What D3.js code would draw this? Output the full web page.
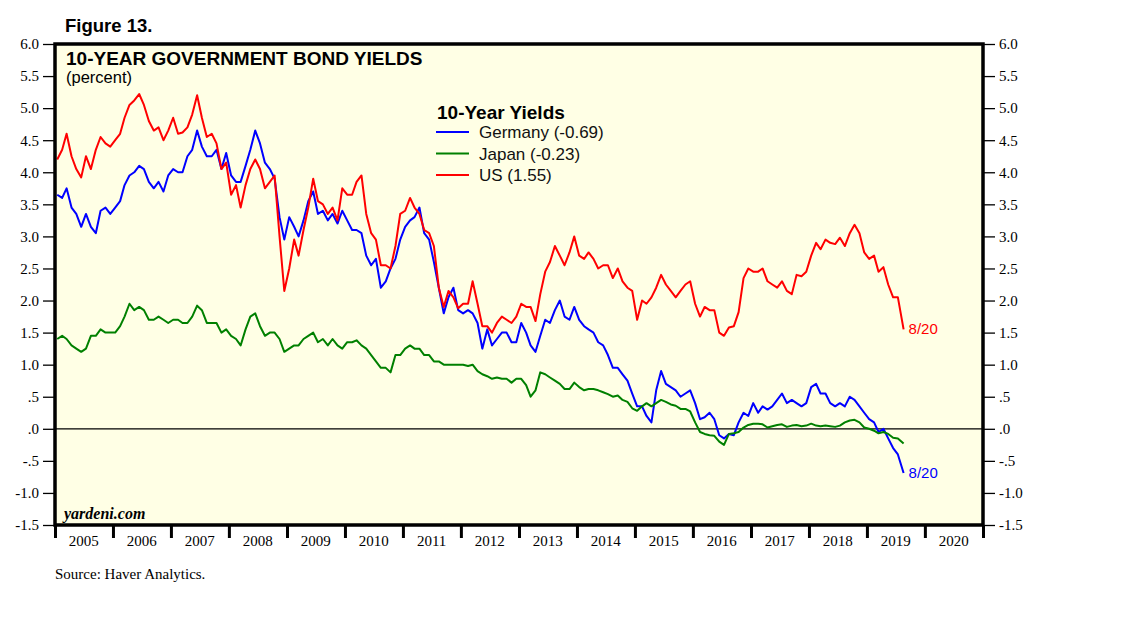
<!DOCTYPE html>
<html>
<head>
<meta charset="utf-8">
<title>10-Year Government Bond Yields</title>
<script src="https://d3js.org/d3.v7.min.js"></script>
<style>
  body { margin: 0; background: #fff; }
  .sans { font-family: "Liberation Sans", Arial, sans-serif; }
</style>
</head>
<body>
<svg id="chart" width="1138" height="621"></svg>
<script>
// monthly readings, Jan 2005 .. Aug 2019 (last point = 8/20)
var startMonth = new Date(2005, 0, 15);
var lastDate = new Date(2019, 7, 20);

var germany = [
  3.65, 3.60, 3.75, 3.45, 3.35, 3.15, 3.35, 3.15, 3.05, 3.40, 3.45, 3.35,
  3.45, 3.55, 3.80, 3.95, 4.00, 4.10, 4.05, 3.85, 3.75, 3.85, 3.70, 3.95,
  4.05, 4.00, 4.00, 4.25, 4.35, 4.65, 4.40, 4.25, 4.25, 4.35, 4.05, 4.30,
  3.95, 3.85, 3.85, 4.10, 4.35, 4.65, 4.45, 4.15, 4.05, 3.90, 3.30, 2.95,
  3.30, 3.15, 3.00, 3.25, 3.55, 3.70, 3.35, 3.40, 3.25, 3.35, 3.20, 3.40,
  3.25, 3.10, 3.10, 3.05, 2.70, 2.55, 2.65, 2.20, 2.30, 2.50, 2.65, 2.95,
  3.15, 3.25, 3.30, 3.45, 3.05, 2.95, 2.60, 2.20, 1.80, 2.05, 2.20, 1.85,
  1.80, 1.85, 1.80, 1.65, 1.25, 1.55, 1.30, 1.40, 1.50, 1.50, 1.35, 1.35,
  1.65, 1.50, 1.30, 1.20, 1.45, 1.70, 1.65, 1.85, 2.00, 1.75, 1.70, 1.90,
  1.70, 1.60, 1.55, 1.50, 1.35, 1.30, 1.15, 0.95, 0.95, 0.85, 0.75, 0.55,
  0.35, 0.35, 0.20, 0.10, 0.60, 0.90, 0.70, 0.65, 0.60, 0.50, 0.55, 0.60,
  0.40, 0.15, 0.18, 0.25, 0.15, -0.10, -0.15, -0.08, -0.10, 0.10, 0.25, 0.20,
  0.40, 0.25, 0.35, 0.30, 0.35, 0.45, 0.55, 0.40, 0.45, 0.40, 0.35, 0.40,
  0.65, 0.70, 0.55, 0.55, 0.40, 0.35, 0.40, 0.35, 0.50, 0.45, 0.35, 0.25,
  0.15, 0.10, -0.05, 0.00, -0.15, -0.30, -0.40, -0.69
];

var japan = [
  1.40, 1.45, 1.40, 1.30, 1.25, 1.20, 1.25, 1.45, 1.45, 1.55, 1.50, 1.50,
  1.50, 1.60, 1.75, 1.95, 1.85, 1.90, 1.85, 1.70, 1.70, 1.75, 1.70, 1.65,
  1.70, 1.70, 1.65, 1.65, 1.75, 1.92, 1.85, 1.65, 1.65, 1.65, 1.50, 1.55,
  1.45, 1.40, 1.30, 1.55, 1.75, 1.80, 1.60, 1.45, 1.50, 1.50, 1.40, 1.20,
  1.25, 1.30, 1.30, 1.40, 1.45, 1.50, 1.35, 1.40, 1.30, 1.40, 1.30, 1.25,
  1.35, 1.35, 1.38, 1.30, 1.25, 1.15, 1.05, 0.95, 0.95, 0.88, 1.15, 1.15,
  1.25, 1.30, 1.25, 1.25, 1.15, 1.15, 1.05, 1.05, 1.00, 1.00, 1.00, 1.00,
  1.00, 0.98, 1.00, 0.90, 0.85, 0.82, 0.78, 0.80, 0.78, 0.78, 0.72, 0.78,
  0.78, 0.68, 0.50, 0.60, 0.88, 0.85, 0.80, 0.75, 0.70, 0.62, 0.62, 0.72,
  0.65, 0.60, 0.62, 0.62, 0.60, 0.57, 0.54, 0.50, 0.52, 0.45, 0.42, 0.32,
  0.28, 0.35, 0.40, 0.35, 0.40, 0.45, 0.42, 0.38, 0.36, 0.31, 0.31, 0.27,
  0.10, -0.05, -0.08, -0.10, -0.11, -0.20, -0.25, -0.08, -0.07, -0.05, 0.02, 0.06,
  0.08, 0.08, 0.07, 0.02, 0.04, 0.06, 0.07, 0.03, 0.05, 0.06, 0.04, 0.05,
  0.08, 0.05, 0.04, 0.05, 0.04, 0.03, 0.05, 0.10, 0.13, 0.14, 0.10, 0.02,
  0.00, -0.03, -0.07, -0.05, -0.08, -0.14, -0.15, -0.23
];

var us = [
  4.20, 4.35, 4.60, 4.25, 4.05, 3.92, 4.25, 4.05, 4.35, 4.55, 4.45, 4.40,
  4.50, 4.60, 4.85, 5.05, 5.12, 5.22, 5.05, 4.80, 4.65, 4.70, 4.50, 4.65,
  4.85, 4.60, 4.62, 4.70, 4.90, 5.20, 4.85, 4.55, 4.60, 4.45, 4.05, 4.15,
  3.65, 3.80, 3.45, 3.80, 4.05, 4.20, 4.05, 3.75, 3.85, 3.95, 3.00, 2.15,
  2.50, 2.95, 2.70, 3.10, 3.45, 3.90, 3.55, 3.50, 3.35, 3.45, 3.25, 3.75,
  3.65, 3.65, 3.85, 3.95, 3.35, 3.05, 2.95, 2.55, 2.55, 2.50, 2.85, 3.35,
  3.40, 3.60, 3.45, 3.35, 3.10, 3.05, 2.85, 2.20, 1.90, 2.15, 2.05, 1.88,
  1.95, 1.95, 2.30, 1.95, 1.60, 1.60, 1.50, 1.65, 1.75, 1.70, 1.65, 1.75,
  1.95, 1.90, 1.90, 1.68, 2.10, 2.45, 2.60, 2.85, 2.70, 2.55, 2.75, 3.00,
  2.70, 2.65, 2.75, 2.65, 2.50, 2.55, 2.55, 2.35, 2.50, 2.30, 2.20, 2.15,
  1.70, 2.00, 1.95, 2.05, 2.20, 2.40, 2.25, 2.15, 2.05, 2.15, 2.25, 2.30,
  1.95, 1.75, 1.90, 1.85, 1.85, 1.50, 1.45, 1.58, 1.60, 1.82, 2.35, 2.50,
  2.45, 2.45, 2.50, 2.30, 2.25, 2.20, 2.30, 2.15, 2.10, 2.40, 2.38, 2.45,
  2.70, 2.90, 2.80, 2.95, 2.90, 2.88, 2.98, 2.85, 3.05, 3.18, 3.05, 2.75,
  2.65, 2.70, 2.45, 2.52, 2.25, 2.05, 2.05, 1.55
];

var seriesNames = ["Germany (-0.69)", "Japan (-0.23)", "US (1.55)"];
var seriesColors = ["#0000ff", "#008000", "#ff0000"];
var yTicks = [-1.5, -1.0, -0.5, 0, 0.5, 1.0, 1.5, 2.0, 2.5, 3.0, 3.5, 4.0, 4.5, 5.0, 5.5, 6.0];
var years = d3.range(2005, 2021);

var serif = "'Liberation Serif', 'Times New Roman', serif";

function monthDates(n) {
  var out = [];
  for (var i = 0; i < n; i++) out.push(d3.timeMonth.offset(startMonth, i));
  out[n - 1] = lastDate;
  return out;
}

function fmtTick(v) {
  var s = Math.abs(v).toFixed(1);
  if (Math.abs(v) < 1) s = s.replace("0.", ".");
  return (v < 0 ? "-" : "") + s;
}

var svg = d3.select("#chart");
var plotL = 55, plotR = 983, plotT = 44, plotB = 525;

var x = d3.scaleTime()
  .domain([new Date(2005, 0, 1), new Date(2021, 0, 1)])
  .range([plotL, plotR]);
var y = d3.scaleLinear().domain([-1.5, 6]).range([plotB, plotT]);

// plot background
svg.append("rect")
  .attr("x", plotL).attr("y", plotT)
  .attr("width", plotR - plotL).attr("height", plotB - plotT)
  .attr("fill", "#ffffe5");

// zero line
svg.append("line")
  .attr("x1", plotL).attr("x2", plotR)
  .attr("y1", y(0)).attr("y2", y(0))
  .attr("stroke", "#000").attr("stroke-width", 1.2);

// series
var lineGen = d3.line()
  .x(function(d) { return x(d.date); })
  .y(function(d) { return y(d.value); });

[germany, japan, us].forEach(function(vals, k) {
  var dates = monthDates(vals.length);
  var pts = vals.map(function(v, i) { return { date: dates[i], value: v }; });
  svg.append("path")
    .datum(pts)
    .attr("d", lineGen)
    .attr("fill", "none")
    .attr("stroke", seriesColors[k])
    .attr("stroke-width", 2)
    .attr("stroke-linejoin", "round");
});

// end labels
svg.append("text").attr("class", "sans")
  .attr("x", x(lastDate) + 5).attr("y", y(us[us.length - 1]) + 5)
  .attr("font-size", 15).attr("fill", "#ff0000").text("8/20");
svg.append("text").attr("class", "sans")
  .attr("x", x(lastDate) + 5).attr("y", y(germany[germany.length - 1]) + 5)
  .attr("font-size", 15).attr("fill", "#0000ff").text("8/20");

// frame
svg.append("rect")
  .attr("x", plotL).attr("y", plotT)
  .attr("width", plotR - plotL).attr("height", plotB - plotT)
  .attr("fill", "none").attr("stroke", "#000").attr("stroke-width", 3.5);

// y axes
var yLeft = d3.axisLeft(y).tickValues(yTicks).tickSize(11).tickPadding(4).tickFormat(fmtTick);
var yRight = d3.axisRight(y).tickValues(yTicks).tickSize(11).tickPadding(4).tickFormat(fmtTick);

var gl = svg.append("g").attr("transform", "translate(" + (plotL - 1) + ",0)").call(yLeft);
var gr = svg.append("g").attr("transform", "translate(" + (plotR + 1) + ",0)").call(yRight);
[gl, gr].forEach(function(g) {
  g.select(".domain").remove();
  g.attr("font-size", 15).attr("font-family", serif);
  g.selectAll("line").attr("stroke", "#000").attr("stroke-width", 1.3);
  g.selectAll("text").attr("fill", "#000");
});

// x axis: boundary ticks + centred year labels
var xAxis = d3.axisBottom(x)
  .tickValues(d3.range(2005, 2022).map(function(yr) { return new Date(yr, 0, 1); }))
  .tickSize(12).tickFormat("");
var gx = svg.append("g").attr("transform", "translate(0," + (plotB + 1) + ")").call(xAxis);
gx.select(".domain").remove();
gx.selectAll("line").attr("stroke", "#000").attr("stroke-width", 3);

svg.append("g")
  .attr("font-family", serif).attr("font-size", 15)
  .selectAll("text")
  .data(years)
  .enter().append("text")
  .attr("x", function(d) { return x(new Date(d, 6, 1)); })
  .attr("y", plotB + 21)
  .attr("text-anchor", "middle")
  .text(function(d) { return d; });

// titles
svg.append("text").attr("class", "sans")
  .attr("x", 65).attr("y", 32)
  .attr("font-size", 18.5).attr("font-weight", "bold")
  .text("Figure 13.");
svg.append("text").attr("class", "sans")
  .attr("x", 66).attr("y", 65)
  .attr("font-size", 19).attr("font-weight", "bold")
  .text("10-YEAR GOVERNMENT BOND YIELDS");
svg.append("text").attr("class", "sans")
  .attr("x", 66).attr("y", 83)
  .attr("font-size", 16.5)
  .text("(percent)");

// legend
var lg = svg.append("g").attr("transform", "translate(436,0)");
lg.append("text").attr("class", "sans")
  .attr("x", 1).attr("y", 119)
  .attr("font-size", 19).attr("font-weight", "bold")
  .text("10-Year Yields");
seriesNames.forEach(function(name, i) {
  var yy = 132 + i * 21.5;
  lg.append("line")
    .attr("x1", 0).attr("x2", 33).attr("y1", yy).attr("y2", yy)
    .attr("stroke", seriesColors[i]).attr("stroke-width", 2);
  lg.append("text").attr("class", "sans")
    .attr("x", 43).attr("y", yy + 6)
    .attr("font-size", 17).attr("fill", "#111")
    .text(name);
});

// watermark + source
svg.append("text")
  .attr("x", 64).attr("y", 519)
  .attr("font-family", serif)
  .attr("font-style", "italic").attr("font-weight", "bold")
  .attr("font-size", 16)
  .text("yardeni.com");
svg.append("text")
  .attr("x", 55).attr("y", 579)
  .attr("font-family", serif)
  .attr("font-size", 15)
  .text("Source: Haver Analytics.");
</script>
</body>
</html>
